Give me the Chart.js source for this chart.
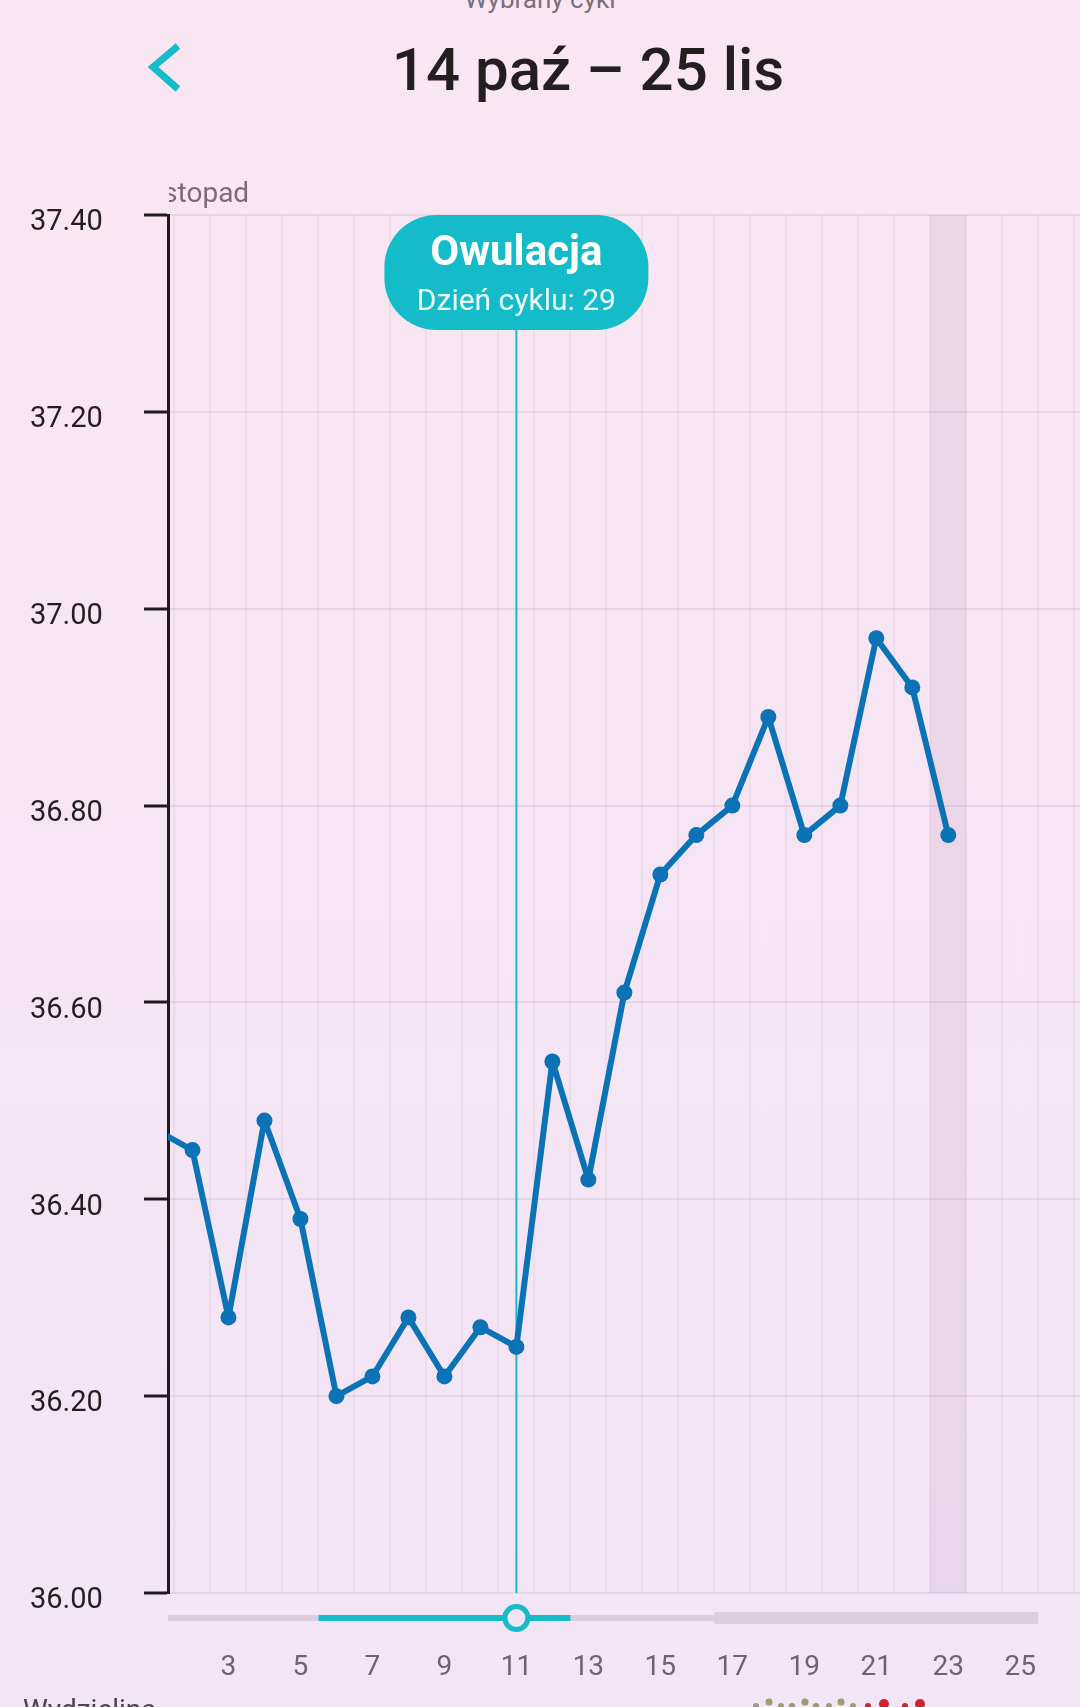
<!DOCTYPE html>
<html lang="pl">
<head>
<meta charset="utf-8">
<title>Wybrany cykl</title>
<script src="https://cdn.jsdelivr.net/npm/chart.js@4.4.1/dist/chart.umd.min.js"></script>
<style>
html, body { margin: 0; padding: 0; width: 1080px; height: 1707px; overflow: hidden; }
body {
    position: relative;
    background: linear-gradient(#f9e6f2, #f2e5f6);
    font-family: Roboto, "Noto Sans", sans-serif;
}
#tempChart { position: absolute; left: 0; top: 0; }
.subtitle {
    position: absolute; top: -14px; left: 540px; transform: translateX(-50%);
    font-size: 26px; line-height: 26px; color: #7a6f7a; white-space: nowrap;
}
.title {
    position: absolute; top: 40px; left: 588px; transform: translateX(-50%);
    font-size: 60px; line-height: 60px; font-weight: 500; color: #231f20; white-space: nowrap;
}
.back { position: absolute; left: 0; top: 0; }
.bottomLabel {
    position: absolute; left: 23px; top: 1696px;
    font-size: 28px; line-height: 28px; color: #4d444c;
}
.drops { position: absolute; left: 0; top: 0; }
</style>
</head>
<body>
<div class="subtitle">Wybrany cykl</div>
<svg class="back" width="200" height="120">
    <polyline points="178,46 153,67 178,89" fill="none" stroke="#17bccb" stroke-width="7" />
</svg>
<div class="title">14 paź – 25 lis</div>
<canvas id="tempChart" width="1080" height="1707"></canvas>
<div class="bottomLabel">Wydzielina</div>
<svg class="drops" width="1080" height="1707">
    <g fill="#9a9c6f">
        <circle cx="756" cy="1706" r="3" /><circle cx="769" cy="1702" r="3.5" /><circle cx="781" cy="1706" r="3" />
        <circle cx="792" cy="1706" r="3" /><circle cx="805" cy="1702" r="3.5" /><circle cx="816" cy="1706" r="3" />
        <circle cx="829" cy="1706" r="3" /><circle cx="841" cy="1702" r="3.5" /><circle cx="853" cy="1706" r="3" />
    </g>
    <g fill="#d2232d">
        <circle cx="868" cy="1706" r="3" /><circle cx="884" cy="1704" r="5" />
        <circle cx="905" cy="1706" r="3" /><circle cx="920" cy="1704" r="5" />
    </g>
</svg>

<script>
// dni listopada (oś X) i temperatura w tych dniach
const days = [1, 2, 3, 4, 5, 6, 7, 8, 9, 10, 11, 12, 13, 14, 15, 16, 17, 18, 19, 20, 21, 22, 23, 24, 25];
const temps = [36.47, 36.45, 36.28, 36.48, 36.38, 36.20, 36.22, 36.28, 36.22, 36.27, 36.25, 36.54, 36.42,
               36.61, 36.73, 36.77, 36.80, 36.89, 36.77, 36.80, 36.97, 36.92, 36.77, null, null];

// skala Y
const tempMin = 36.0;
const tempMax = 37.4;
const tempStep = 0.2;

// widoczny fragment osi X (przewinięty wykres)
const viewMin = 1.32;
const viewMax = 26.66;

// zdarzenia cyklu
const monthName = "listopad";
const ovulationDay = 11;
const ovulationCycleDay = 29;
const todayDay = 23;
const fertileStart = 6;
const fertileEnd = 12;
const lutealStart = 17;
const cycleEnd = 25;

const teal = "#14bcc9";
const lineBlue = "#0b73b5";

const cyclePlugin = {
    id: "cyclePlugin",
    beforeDatasetsDraw(chart) {
        const { ctx, chartArea } = chart;
        const x = chart.scales.x;
        ctx.save();
        // dzisiejszy dzień - szary pas
        const t0 = x.getPixelForValue(todayDay - 0.5);
        const t1 = x.getPixelForValue(todayDay + 0.5);
        ctx.fillStyle = "rgba(150, 100, 140, 0.11)";
        ctx.fillRect(t0, chartArea.top, t1 - t0, chartArea.bottom - chartArea.top);
        // linia owulacji
        const ox = x.getPixelForValue(ovulationDay);
        ctx.strokeStyle = teal;
        ctx.lineWidth = 2;
        ctx.beginPath();
        ctx.moveTo(ox, chartArea.top + 100);
        ctx.lineTo(ox, chartArea.bottom);
        ctx.stroke();
        ctx.restore();
    },
    afterDraw(chart) {
        const { ctx, chartArea } = chart;
        const x = chart.scales.x;
        const ox = x.getPixelForValue(ovulationDay);
        ctx.save();

        // nazwa miesiąca, ucięta przy osi Y
        ctx.save();
        ctx.beginPath();
        ctx.rect(chartArea.left + 1, chartArea.top - 60, chartArea.right - chartArea.left, 60);
        ctx.clip();
        ctx.font = "28px Roboto";
        ctx.fillStyle = "#776c78";
        ctx.textBaseline = "alphabetic";
        ctx.fillText(monthName, x.getPixelForValue(1) - 7, chartArea.top - 13);
        ctx.restore();

        // dymek "Owulacja"
        const bw = 264, bh = 115;
        ctx.fillStyle = teal;
        ctx.beginPath();
        ctx.roundRect(ox - bw / 2, chartArea.top, bw, bh, 52);
        ctx.fill();
        ctx.fillStyle = "#ffffff";
        ctx.textAlign = "center";
        ctx.font = "bold 42px Roboto";
        ctx.fillText("Owulacja", ox, chartArea.top + 50);
        ctx.fillStyle = "rgba(255, 255, 255, 0.92)";
        ctx.font = "30px Roboto";
        ctx.fillText("Dzień cyklu: " + ovulationCycleDay, ox, chartArea.top + 95);

        // suwak pod wykresem
        const sy = chartArea.bottom + 25;
        const endX = x.getPixelForValue(cycleEnd + 0.5);
        ctx.fillStyle = "#ddcde0";
        ctx.fillRect(chartArea.left, sy - 3, endX - chartArea.left, 6);
        const l0 = x.getPixelForValue(lutealStart - 0.5);
        ctx.fillRect(l0, sy - 6, endX - l0, 12);
        const f0 = x.getPixelForValue(fertileStart - 0.5);
        const f1 = x.getPixelForValue(fertileEnd + 0.5);
        ctx.fillStyle = teal;
        ctx.fillRect(f0, sy - 3, f1 - f0, 6);
        ctx.beginPath();
        ctx.arc(ox, sy, 11.5, 0, Math.PI * 2);
        ctx.fillStyle = "#f3e5f5";
        ctx.fill();
        ctx.lineWidth = 5;
        ctx.strokeStyle = teal;
        ctx.stroke();
        ctx.restore();
    }
};

const ctx = document.getElementById("tempChart").getContext("2d");

const tempChart = new Chart(ctx, {
    type: "line",
    data: {
        datasets: [{
            data: days.map((d, i) => ({ x: d, y: temps[i] })),
            borderColor: lineBlue,
            backgroundColor: lineBlue,
            borderWidth: 6,
            borderJoinStyle: "round",
            pointRadius: 8,
            pointBackgroundColor: lineBlue,
            pointBorderWidth: 0,
            tension: 0,
            clip: 0
        }]
    },
    options: {
        responsive: false,
        animation: false,
        layout: { autoPadding: false, padding: { left: 30, top: 215, right: 0, bottom: 0 } },
        plugins: {
            legend: { display: false },
            tooltip: { enabled: false }
        },
        scales: {
            x: {
                type: "linear",
                min: viewMin,
                max: viewMax,
                afterFit: (s) => { s.height = 114; s.paddingLeft = 0; s.paddingRight = 0; },
                border: { display: false },
                grid: {
                    drawTicks: false,
                    lineWidth: 2,
                    color: (c) => (c.tick && Math.abs(c.tick.value % 1) === 0.5) ? "rgba(140, 90, 130, 0.07)" : "rgba(0,0,0,0)"
                },
                ticks: {
                    stepSize: 0.5,
                    includeBounds: false,
                    autoSkip: false,
                    maxRotation: 0,
                    padding: 58,
                    color: "#6e6470",
                    font: { family: "Roboto", size: 28 },
                    callback: (v) => (Number.isInteger(v) && v % 2 === 1) ? String(v) : ""
                }
            },
            y: {
                min: tempMin,
                max: tempMax,
                afterFit: (s) => { s.width = 138; s.paddingTop = 0; s.paddingBottom = 0; },
                border: { color: "#1f1a1e", width: 3 },
                grid: {
                    color: "rgba(140, 90, 130, 0.12)",
                    lineWidth: 2,
                    tickLength: 24,
                    tickColor: "#1f1a1e",
                    tickWidth: 3
                },
                ticks: {
                    stepSize: tempStep,
                    crossAlign: "far",
                    labelOffset: 8,
                    color: "#231f20",
                    font: { family: "Roboto", size: 29 },
                    callback: (v) => v.toFixed(2)
                }
            }
        }
    },
    plugins: [cyclePlugin]
});
</script>
</body>
</html>
